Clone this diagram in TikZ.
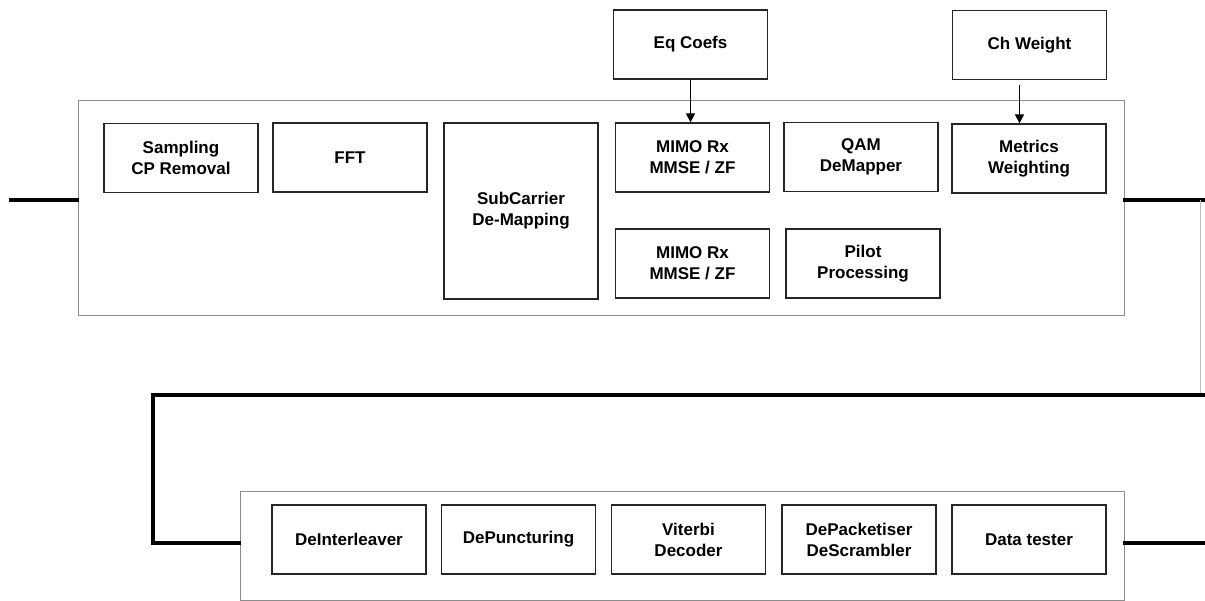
\documentclass[tikz,border=0pt]{standalone}
\usepackage{fontspec}
\setmainfont{Liberation Sans}
\usepackage{tikz}
\usetikzlibrary{arrows.meta}
\usepackage{xcolor}

\tikzset{
  blk/.style={draw=black!85, line width=1.2pt, fill=white, align=center,
    minimum width=154pt, minimum height=69pt, inner sep=0pt,
    font=\fontsize{17}{21}\selectfont\bfseries},
  frame/.style={draw=black!45, line width=1pt, minimum width=#1, inner sep=0pt},
  bus/.style={line width=3.5pt, line cap=rect},
  tap/.style={line width=1pt, -{Triangle[length=9pt,width=9pt]}}
}

\begin{document}
\begin{tikzpicture}[x=1pt,y=-1pt]
  \useasboundingbox (0,0) rectangle (1205,601);
  % receiver front end
  \node[frame=1046pt, minimum height=215pt] (rxtop) at (601,208.5) {};
  \node[blk] (samp) at (181,158) {Sampling\\CP Removal};
  \node[blk] (fft) at (350,157.5) {FFT};
  \node[blk, minimum height=176pt] (subc) at (521,211) {SubCarrier\\De-Mapping};
  \node[blk] (mimoa) at (692.5,157.5) {MIMO Rx\\MMSE / ZF};
  \node[blk] (mimob) at (692.5,263.5) {MIMO Rx\\MMSE / ZF};
  \node[blk] (qam) at (861,157) {QAM\\DeMapper};
  \node[blk] (pilot) at (863,263.5) {Pilot\\Processing};
  \node[blk] (metr) at (1029,158.5) {Metrics\\Weighting};
  \node[blk] (eqc) at (690.5,44.5) {Eq Coefs};
  \node[blk] (chw) at (1029.5,45) {Ch Weight};
  \draw[tap] (eqc.south) -- (eqc.south |- mimoa.north);
  \draw[tap, shorten <=5pt] ([xshift=-10pt]chw.south) -- ([xshift=-10pt]chw.south |- metr.north);

  % decoder chain
  \node[frame=884pt, minimum height=109pt] (rxbot) at (682,545.5) {};
  \node[blk] (deint) at (349,539.5) {DeInterleaver};
  \node[blk] (depunc) at (518.5,539.5) {DePuncturing};
  \node[blk] (vit) at (688.5,539.5) {Viterbi\\Decoder};
  \node[blk] (depack) at (859,539.5) {DePacketiser\\DeScrambler};
  \node[blk] (dtest) at (1029,539.5) {Data tester};

  \coordinate (in) at (11,200);
  \coordinate (out) at (1205,200);
  \coordinate (down) at (1200,200);
  \coordinate (turn) at (1200,395);
  \coordinate (back) at (153,395);
  \coordinate (fin) at (1205,543);
  \draw[bus] (in) -- (in -| rxtop.west);
  \draw[bus] (out -| rxtop.east) -- (out);
  \draw[black!25, line width=1pt] (down) -- (turn);
  \draw[bus] (turn -| out) -- (back) -- (back |- fin) -- (fin -| rxbot.west);
  \draw[bus] (fin -| rxbot.east) -- (fin);
\end{tikzpicture}
\end{document}
